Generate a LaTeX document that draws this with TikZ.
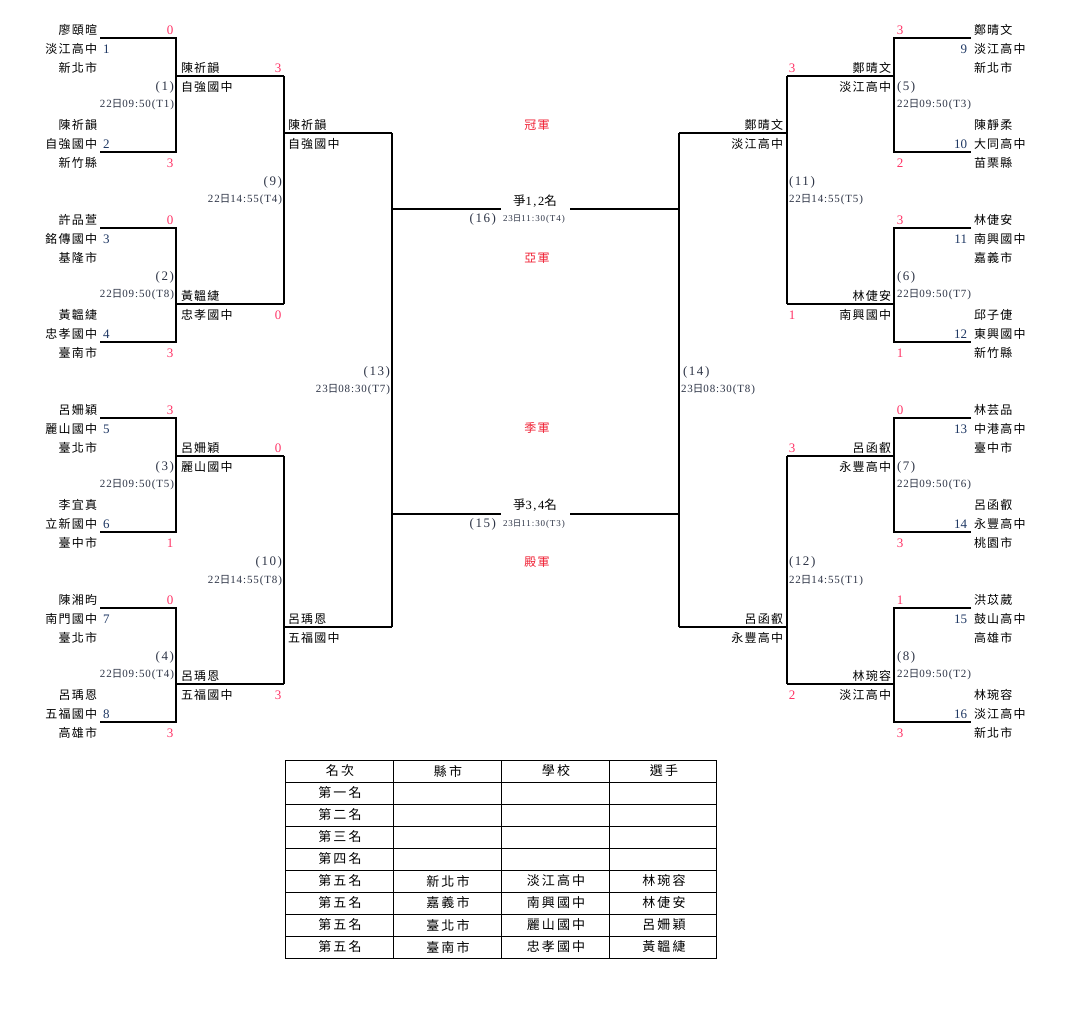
\documentclass[tikz,border=0pt]{standalone}
\usepackage{fontspec}
\setmainfont{Liberation Serif}
\newfontfamily\cjk[LetterSpace=10]{Noto Sans CJK TC}
\newfontfamily\cjkT[LetterSpace=16]{Noto Sans CJK TC}
\newfontfamily\numS{Liberation Serif}
\newfontfamily\numL[LetterSpace=12]{Liberation Serif}
\newfontfamily\numT[LetterSpace=8]{Liberation Serif}
\newfontfamily\numC[LetterSpace=10]{Liberation Serif}
\newcommand\ri{{\cjk\fontsize{10.5}{11}\selectfont 日}}
\definecolor{scred}{RGB}{255,51,102}
\definecolor{seedblue}{RGB}{31,56,100}
\definecolor{lblgray}{RGB}{45,52,70}
\definecolor{titred}{RGB}{240,30,50}
\tikzset{
  every node/.style={inner sep=0pt, outer sep=0pt},
  ln/.style={line width=1.2pt, black},
  nm/.style={font=\cjk\fontsize{12}{14}\selectfont},
  sc/.style={font=\numS\fontsize{13}{13}\selectfont, text=scred},
  sd/.style={font=\numS\fontsize{13}{13}\selectfont, text=seedblue},
  ml/.style={font=\numL\fontsize{13}{13}\selectfont, text=lblgray},
  tm/.style={font=\numT\fontsize{11}{11}\selectfont, text=lblgray},
  ct/.style={font=\numC\fontsize{9}{9}\selectfont, text=lblgray},
  ttl/.style={font=\cjk\fontsize{12}{14}\selectfont, text=titred},
  fin/.style={font=\numL\fontsize{12.5}{13}\selectfont, minimum width=69pt},
  tb/.style={font=\cjkT\fontsize{13}{15}\selectfont},
}
% left upper player: id, L, name, school, city, seed, score
\newcommand\LU[7]{%
  \coordinate (#1) at (100,#2);
  \node[nm,anchor=east] (#1-n) at (97,{#2-8}) {#3};
  \node[nm,anchor=east] (#1-s) at (97,{#2+11}) {#4};
  \node[nm,anchor=east] (#1-c) at (97,{#2+30}) {#5};
  \node[sd,anchor=west] (#1-d) at (103,{#2+11}) {#6};
  \node[sc] (#1-x) at (170,{#2-8}) {#7};}
\newcommand\LL[7]{%
  \coordinate (#1) at (100,#2);
  \node[nm,anchor=east] (#1-n) at (97,{#2-27}) {#3};
  \node[nm,anchor=east] (#1-s) at (97,{#2-8}) {#4};
  \node[nm,anchor=east] (#1-c) at (97,{#2+11}) {#5};
  \node[sd,anchor=west] (#1-d) at (103,{#2-8}) {#6};
  \node[sc] (#1-x) at (170,{#2+11}) {#7};}
\newcommand\RU[7]{%
  \coordinate (#1) at (971,#2);
  \node[nm,anchor=west] (#1-n) at (974,{#2-8}) {#3};
  \node[nm,anchor=west] (#1-s) at (974,{#2+11}) {#4};
  \node[nm,anchor=west] (#1-c) at (974,{#2+30}) {#5};
  \node[sd,anchor=east] (#1-d) at (967,{#2+11}) {#6};
  \node[sc] (#1-x) at (900,{#2-8}) {#7};}
\newcommand\RL[7]{%
  \coordinate (#1) at (971,#2);
  \node[nm,anchor=west] (#1-n) at (974,{#2-27}) {#3};
  \node[nm,anchor=west] (#1-s) at (974,{#2-8}) {#4};
  \node[nm,anchor=west] (#1-c) at (974,{#2+11}) {#5};
  \node[sd,anchor=east] (#1-d) at (967,{#2-8}) {#6};
  \node[sc] (#1-x) at (900,{#2+11}) {#7};}
% round-2 winners: id, y, name, school, score, score dy
\newcommand\LW[6]{%
  \node[nm,anchor=west] (#1-n) at (181,{#2-8}) {#3};
  \node[nm,anchor=west] (#1-s) at (181,{#2+11}) {#4};
  \node[sc] (#1-x) at (278,{#2+#6}) {#5};}
\newcommand\RW[6]{%
  \node[nm,anchor=east] (#1-n) at (891,{#2-8}) {#3};
  \node[nm,anchor=east] (#1-s) at (891,{#2+11}) {#4};
  \node[sc] (#1-x) at (792,{#2+#6}) {#5};}
\begin{document}
\begin{tikzpicture}[x=1pt,y=-1pt]
\useasboundingbox[fill=white] (0,0) rectangle (1079,1019);

% ---------- left players ----------
\LU{p1}{38}{廖頤暄}{淡江高中}{新北市}{1}{0}
\LL{p2}{152}{陳祈韻}{自強國中}{新竹縣}{2}{3}
\LU{p3}{228}{許品萱}{銘傳國中}{基隆市}{3}{0}
\LL{p4}{342}{黃韞緁}{忠孝國中}{臺南市}{4}{3}
\LU{p5}{418}{呂姍穎}{麗山國中}{臺北市}{5}{3}
\LL{p6}{532}{李宜真}{立新國中}{臺中市}{6}{1}
\LU{p7}{608}{陳湘昀}{南門國中}{臺北市}{7}{0}
\LL{p8}{722}{呂瑀恩}{五福國中}{高雄市}{8}{3}

% ---------- right players ----------
\RU{q9}{38}{鄭晴文}{淡江高中}{新北市}{9}{3}
\RL{q10}{152}{陳靜柔}{大同高中}{苗栗縣}{10}{2}
\RU{q11}{228}{林倢安}{南興國中}{嘉義市}{11}{3}
\RL{q12}{342}{邱子倢}{東興國中}{新竹縣}{12}{1}
\RU{q13}{418}{林芸品}{中港高中}{臺中市}{13}{0}
\RL{q14}{532}{呂函叡}{永豐高中}{桃園市}{14}{3}
\RU{q15}{608}{洪苡葳}{鼓山高中}{高雄市}{15}{1}
\RL{q16}{722}{林琬容}{淡江高中}{新北市}{16}{3}

% ---------- bracket coordinates ----------
\coordinate (j1) at (176,76);  \coordinate (o1) at (284,76);
\coordinate (j2) at (176,304); \coordinate (o2) at (284,304);
\coordinate (j3) at (176,456); \coordinate (o3) at (284,456);
\coordinate (j4) at (176,684); \coordinate (o4) at (284,684);
\coordinate (j9) at (284,133); \coordinate (o9) at (392,133);
\coordinate (j10) at (284,627); \coordinate (o10) at (392,627);
\coordinate (k5) at (894,76);  \coordinate (r5) at (787,76);
\coordinate (k6) at (894,304); \coordinate (r6) at (787,304);
\coordinate (k7) at (894,456); \coordinate (r7) at (787,456);
\coordinate (k8) at (894,684); \coordinate (r8) at (787,684);
\coordinate (k11) at (787,133); \coordinate (r11) at (679,133);
\coordinate (k12) at (787,627); \coordinate (r12) at (679,627);
\coordinate (f12l) at (392,209); \coordinate (f12r) at (679,209);
\coordinate (f34l) at (392,514); \coordinate (f34r) at (679,514);

% ---------- left bracket lines ----------
\draw[ln] (p1) -| (j1) |- (p2);  \draw[ln] (j1) -- (o1);
\draw[ln] (p3) -| (j2) |- (p4);  \draw[ln] (j2) -- (o2);
\draw[ln] (p5) -| (j3) |- (p6);  \draw[ln] (j3) -- (o3);
\draw[ln] (p7) -| (j4) |- (p8);  \draw[ln] (j4) -- (o4);
\draw[ln] (o1) -- (o2);  \draw[ln] (j9) -- (o9);
\draw[ln] (o3) -- (o4);  \draw[ln] (j10) -- (o10);
\draw[ln] (o9) -- (o10);
% ---------- right bracket lines ----------
\draw[ln] (q9) -| (k5) |- (q10);  \draw[ln] (k5) -- (r5);
\draw[ln] (q11) -| (k6) |- (q12); \draw[ln] (k6) -- (r6);
\draw[ln] (q13) -| (k7) |- (q14); \draw[ln] (k7) -- (r7);
\draw[ln] (q15) -| (k8) |- (q16); \draw[ln] (k8) -- (r8);
\draw[ln] (r5) -- (r6);  \draw[ln] (k11) -- (r11);
\draw[ln] (r7) -- (r8);  \draw[ln] (k12) -- (r12);
\draw[ln] (r11) -- (r12);

% ---------- round 2 winners ----------
\LW{w1}{76}{陳祈韻}{自強國中}{3}{-8}
\LW{w2}{304}{黃韞緁}{忠孝國中}{0}{11}
\LW{w3}{456}{呂姍穎}{麗山國中}{0}{-8}
\LW{w4}{684}{呂瑀恩}{五福國中}{3}{11}
\RW{w5}{76}{鄭晴文}{淡江高中}{3}{-8}
\RW{w6}{304}{林倢安}{南興國中}{1}{11}
\RW{w7}{456}{呂函叡}{永豐高中}{3}{-8}
\RW{w8}{684}{林琬容}{淡江高中}{2}{11}
% ---------- round 3 winners ----------
\node[nm,anchor=west] (w9-n) at (288,125) {陳祈韻};
\node[nm,anchor=west] (w9-s) at (288,144) {自強國中};
\node[nm,anchor=west] (w10-n) at (288,619) {呂瑀恩};
\node[nm,anchor=west] (w10-s) at (288,638) {五福國中};
\node[nm,anchor=east] (w11-n) at (783,125) {鄭晴文};
\node[nm,anchor=east] (w11-s) at (783,144) {淡江高中};
\node[nm,anchor=east] (w12-n) at (783,619) {呂函叡};
\node[nm,anchor=east] (w12-s) at (783,638) {永豐高中};

% ---------- match labels ----------
\node[ml,anchor=east] (m1) at (174,87) {(1)};
\node[tm,anchor=east] (t1) at (174,105) {22\ri 09:50(T1)};
\node[ml,anchor=east] (m2) at (174,277) {(2)};
\node[tm,anchor=east] (t2) at (174,295) {22\ri 09:50(T8)};
\node[ml,anchor=east] (m3) at (174,467) {(3)};
\node[tm,anchor=east] (t3) at (174,485) {22\ri 09:50(T5)};
\node[ml,anchor=east] (m4) at (174,657) {(4)};
\node[tm,anchor=east] (t4) at (174,675) {22\ri 09:50(T4)};
\node[ml,anchor=west] (m5) at (897,87) {(5)};
\node[tm,anchor=west] (t5) at (897,105) {22\ri 09:50(T3)};
\node[ml,anchor=west] (m6) at (897,277) {(6)};
\node[tm,anchor=west] (t6) at (897,295) {22\ri 09:50(T7)};
\node[ml,anchor=west] (m7) at (897,467) {(7)};
\node[tm,anchor=west] (t7) at (897,485) {22\ri 09:50(T6)};
\node[ml,anchor=west] (m8) at (897,657) {(8)};
\node[tm,anchor=west] (t8) at (897,675) {22\ri 09:50(T2)};
\node[ml,anchor=east] (m9) at (282,182) {(9)};
\node[tm,anchor=east] (t9) at (282,200) {22\ri 14:55(T4)};
\node[ml,anchor=east] (m10) at (282,562) {(10)};
\node[tm,anchor=east] (t10) at (282,581) {22\ri 14:55(T8)};
\node[ml,anchor=west] (m11) at (789,182) {(11)};
\node[tm,anchor=west] (t11) at (789,200) {22\ri 14:55(T5)};
\node[ml,anchor=west] (m12) at (789,562) {(12)};
\node[tm,anchor=west] (t12) at (789,581) {22\ri 14:55(T1)};
\node[ml,anchor=east] (m13) at (390,372) {(13)};
\node[tm,anchor=east] (t13) at (390,390) {23\ri 08:30(T7)};
\node[ml,anchor=west] (m14) at (683,372) {(14)};
\node[tm,anchor=west] (t14) at (681,390) {23\ri 08:30(T8)};

% ---------- centre ----------
\node[ttl] (champ) at (537,125) {冠軍};
\node[ttl] (second) at (537,258) {亞軍};
\node[ttl] (third) at (537,428) {季軍};
\node[ttl] (fourth) at (537,562) {殿軍};
\node[fin] (f12) at (535,201) {{\cjk 爭}1,2{\cjk 名}};
\node[fin] (f34) at (535,505) {{\cjk 爭}3,4{\cjk 名}};
\draw[ln] (f12l) -- (f12l -| f12.west);
\draw[ln] (f12r) -- (f12r -| f12.east);
\draw[ln] (f34l) -- (f34l -| f34.west);
\draw[ln] (f34r) -- (f34r -| f34.east);
\node[ml,anchor=east] (m16) at (496,219) {(16)};
\node[ct,anchor=west] (t16) at (503,219) {23{\cjk\fontsize{8.5}{9}\selectfont 日}11:30(T4)};
\node[ml,anchor=east] (m15) at (496,524) {(15)};
\node[ct,anchor=west] (t15) at (503,524) {23{\cjk\fontsize{8.5}{9}\selectfont 日}11:30(T3)};

% ---------- result table ----------
\draw[line width=0.9pt] (285,760) rectangle (716,958);
\foreach \yy in {782,804,826,848,870,892,914,936}
  \draw[line width=0.9pt] (285,\yy) -- (716,\yy);
\foreach \xx in {393,501,609}
  \draw[line width=0.9pt] (\xx,760) -- (\xx,958);
\foreach \txt [count=\i] in {名次,縣市,學校,選手}
  \node[tb] (h\i) at ({232+108*\i},771) {\txt};
\foreach \txt [count=\i] in {第一名,第二名,第三名,第四名,第五名,第五名,第五名,第五名}
  \node[tb] (r\i) at (340,{771+22*\i}) {\txt};
\node[tb] (c5a) at (448,881) {新北市};
\node[tb] (c5b) at (556,881) {淡江高中};
\node[tb] (c5c) at (664,881) {林琬容};
\node[tb] (c6a) at (448,903) {嘉義市};
\node[tb] (c6b) at (556,903) {南興國中};
\node[tb] (c6c) at (664,903) {林倢安};
\node[tb] (c7a) at (448,925) {臺北市};
\node[tb] (c7b) at (556,925) {麗山國中};
\node[tb] (c7c) at (664,925) {呂姍穎};
\node[tb] (c8a) at (448,947) {臺南市};
\node[tb] (c8b) at (556,947) {忠孝國中};
\node[tb] (c8c) at (664,947) {黃韞緁};
\end{tikzpicture}
\end{document}
